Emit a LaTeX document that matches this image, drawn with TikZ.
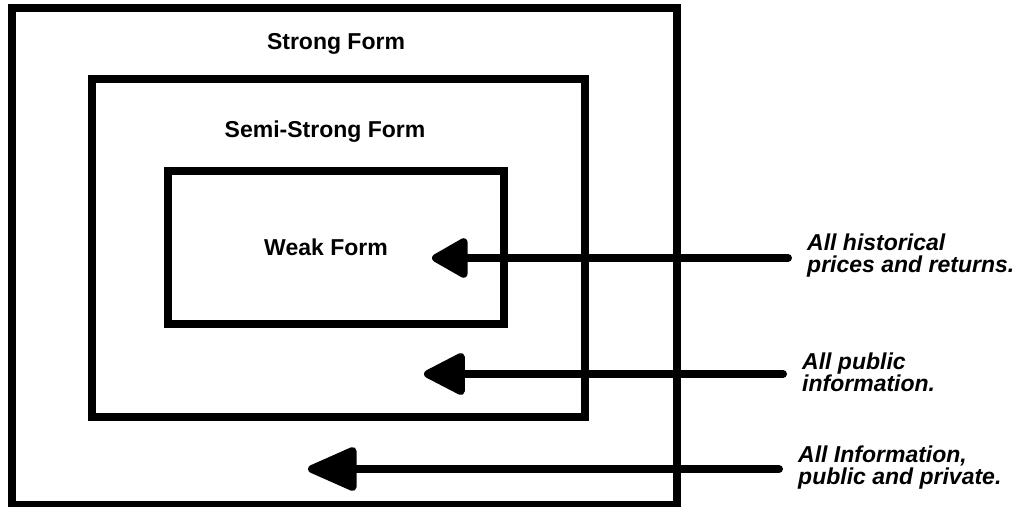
\documentclass[tikz,border=0pt]{standalone}
\usepackage{fontspec}
\setmainfont{Liberation Sans}
\usetikzlibrary{arrows.meta}
\begin{document}
\begin{tikzpicture}[x=1pt,y=-1pt,
  frame/.style={draw=black,line width=8pt,line join=miter},
  title/.style={font=\fontsize{23}{26}\selectfont\bfseries,inner sep=0pt,anchor=base},
  lab/.style={font=\fontsize{23}{21.5}\selectfont\bfseries\itshape,inner sep=0pt,anchor=north west,align=left},
  conn/.style={draw=black,line width=8pt,line cap=round}]
\useasboundingbox (0,0) rectangle (1020,506);
\fill[white] (0,0) rectangle (1020,506);
% boxes
\draw[frame] (12,8) rectangle (677,505);
\draw[frame] (92,78.5) rectangle (585,417);
\draw[frame] (168,171) rectangle (504,323.5);
% titles
\node[title] (strong) at (336,49) {Strong Form};
\node[title] (semi) at (325,137) {Semi-Strong Form};
\node[title] (weak) at (326,255) {Weak Form};
% labels
\node[lab] (l1) at (807,234) {All historical\\prices and returns.};
\node[lab] (l2) at (802,353) {All public\\information.};
\node[lab] (l3) at (798,446) {All Information,\\public and private.};
% connectors
\coordinate (s1) at (788,258);
\coordinate (t1) at (432,258);
\coordinate (s2) at (783,374);
\coordinate (t2) at (424,374);
\coordinate (s3) at (779,469);
\coordinate (t3) at (308,469);
\draw[conn,-{Triangle[length=40pt,width=43pt,round]}] (s1) -- (t1);
\draw[conn,-{Triangle[length=46pt,width=45pt,round]}] (s2) -- (t2);
\draw[conn,-{Triangle[length=55pt,width=46pt,round]}] (s3) -- (t3);
\end{tikzpicture}
\end{document}
